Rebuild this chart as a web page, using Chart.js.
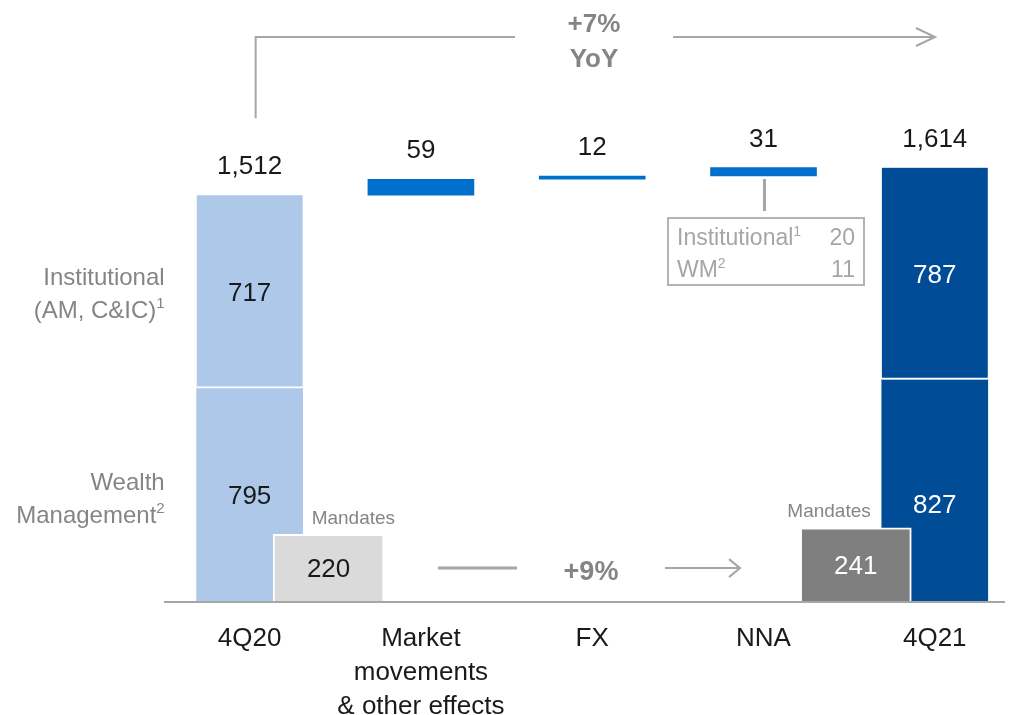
<!DOCTYPE html>
<html>
<head>
<meta charset="utf-8">
<script src="https://cdn.jsdelivr.net/npm/chart.js@4.4.1/dist/chart.umd.min.js"></script>
<style>
  html, body { margin: 0; background: #fff; }
  #wrap { width: 1010px; height: 715px; position: relative; }
</style>
</head>
<body>
<div id="wrap"><canvas id="aumChart"></canvas></div>
<script>
// data
const categories = [["4Q20"], ["Market", "movements", "& other effects"], ["FX"], ["NNA"], ["4Q21"]];
const wealthMgmt = [795, 827];      // 4Q20, 4Q21
const institutional = [717, 787];   // 4Q20, 4Q21
const totals = [1512, 1614];
const changes = [59, 12, 31];       // market, FX, NNA
const mandates = [220, 241];        // 4Q20, 4Q21
const nnaSplit = [["Institutional", "1", 20], ["WM", "2", 11]];
const yoyText = ["+7%", "YoY"];
const mandateGrowth = "+9%";

const FONT = "'Liberation Sans', Arial, sans-serif";
const GREY_LINE = "#a6a6a6";
const GREY_TEXT = "#858585";
const MANDATE_X = [0.461, 3.539];

function fmtNum(v) { return Number(v).toLocaleString("en-US"); }

// floating bars for the waterfall
const wmData = [{ x: 0, y: [0, wealthMgmt[0]] }, { x: 4, y: [0, wealthMgmt[1]] }];
const instData = [
  { x: 0, y: [wealthMgmt[0], wealthMgmt[0] + institutional[0]] },
  { x: 4, y: [wealthMgmt[1], wealthMgmt[1] + institutional[1]] }
];
let run = totals[0];
const changeData = changes.map((c, i) => {
  const d = { x: i + 1, y: [run, run + c] };
  run += c;
  return d;
});
const mandateData = mandates.map((m, i) => ({ x: MANDATE_X[i], y: m }));

function font(size, weight) { return `${weight || "normal"} ${size}px ${FONT}`; }

// text with superscript pieces, e.g. [["Institutional"], ["1", true]]
function drawRun(ctx, parts, x, y, align, size, color) {
  ctx.fillStyle = color;
  ctx.textAlign = "left";
  ctx.textBaseline = "alphabetic";
  const widths = parts.map(p => {
    ctx.font = font(p[1] ? Math.round(size * 0.62) : size);
    return ctx.measureText(p[0]).width;
  });
  const total = widths.reduce((a, b) => a + b, 0);
  let cx = align === "right" ? x - total : align === "center" ? x - total / 2 : x;
  parts.forEach((p, i) => {
    ctx.font = font(p[1] ? Math.round(size * 0.62) : size);
    ctx.fillText(p[0], cx, p[1] ? y - size * 0.4 : y);
    cx += widths[i];
  });
}

function centerText(ctx, txt, x, yMid, size, color, weight) {
  ctx.font = font(size, weight);
  ctx.fillStyle = color;
  ctx.textAlign = "center";
  ctx.textBaseline = "alphabetic";
  ctx.fillText(txt, x, yMid + size * 0.36);
}

function line(ctx, pts, color, w) {
  ctx.beginPath();
  ctx.strokeStyle = color;
  ctx.lineWidth = w;
  ctx.lineJoin = "miter";
  pts.forEach((p, i) => i ? ctx.lineTo(p[0], p[1]) : ctx.moveTo(p[0], p[1]));
  ctx.stroke();
}

const annotations = {
  id: "annotations",
  afterDatasetsDraw(chart) {
    const { ctx, chartArea, scales } = chart;
    const x = scales.x, y = scales.y, y2 = scales.y2;
    const base = y.getPixelForValue(0);
    const half = 53;
    ctx.save();

    // baseline
    line(ctx, [[chartArea.left, base], [chartArea.right, base]], GREY_LINE, 2);

    // totals and changes above bars
    const tops = [totals[0], totals[0] + changes[0], totals[0] + changes[0] + changes[1],
                  totals[0] + changes[0] + changes[1] + changes[2], totals[1]];
    const topLabels = [fmtNum(totals[0]), ...changes.map(fmtNum), fmtNum(totals[1])];
    topLabels.forEach((t, i) => {
      ctx.font = font(26);
      ctx.fillStyle = "#1a1a1a";
      ctx.textAlign = "center";
      ctx.textBaseline = "alphabetic";
      ctx.fillText(t, x.getPixelForValue(i), y.getPixelForValue(tops[i]) - 21);
    });

    // values inside stacked bars
    const x0 = x.getPixelForValue(0), x4 = x.getPixelForValue(4);
    centerText(ctx, String(institutional[0]), x0, y.getPixelForValue(wealthMgmt[0] + institutional[0] / 2), 26, "#1a1a1a");
    centerText(ctx, String(wealthMgmt[0]), x0, y.getPixelForValue(wealthMgmt[0] / 2), 26, "#1a1a1a");
    centerText(ctx, String(institutional[1]), x4, y.getPixelForValue(wealthMgmt[1] + institutional[1] / 2), 26, "#ffffff");
    centerText(ctx, String(wealthMgmt[1]), x4, y.getPixelForValue(wealthMgmt[1] * 0.44), 26, "#ffffff");

    // mandates
    const m0 = x.getPixelForValue(MANDATE_X[0]), m1 = x.getPixelForValue(MANDATE_X[1]);
    centerText(ctx, String(mandates[0]), m0, y2.getPixelForValue(mandates[0] / 2), 26, "#1a1a1a");
    centerText(ctx, String(mandates[1]), m1, y2.getPixelForValue(mandates[1] / 2), 26, "#ffffff");
    drawRun(ctx, [["Mandates"]], x0 + half + 9, y2.getPixelForValue(mandates[0]) - 10, "left", 19, GREY_TEXT);
    drawRun(ctx, [["Mandates"]], x4 - half - 11, y2.getPixelForValue(mandates[1]) - 11, "right", 19, GREY_TEXT);

    // +9% arrow between mandates
    const ym = y2.getPixelForValue(mandates[0] * 0.5);
    line(ctx, [[438, ym], [517, ym]], GREY_LINE, 3);
    line(ctx, [[665, ym], [740, ym]], GREY_LINE, 2);
    line(ctx, [[729, ym - 9], [740, ym], [729, ym + 9]], GREY_LINE, 2);
    centerText(ctx, mandateGrowth, 591, ym + 2, 27, GREY_TEXT, "bold");

    // left segment labels
    const instMid = y.getPixelForValue(wealthMgmt[0] + institutional[0] / 2);
    const wmMid = y.getPixelForValue(wealthMgmt[0] / 2);
    const lx = x0 - half - 32;
    drawRun(ctx, [["Institutional"]], lx, instMid - 16 + 9, "right", 24, GREY_TEXT);
    drawRun(ctx, [["(AM, C&IC)"], ["1", true]], lx, instMid + 17 + 9, "right", 24, GREY_TEXT);
    drawRun(ctx, [["Wealth"]], lx, wmMid - 14 + 9, "right", 24, GREY_TEXT);
    drawRun(ctx, [["Management"], ["2", true]], lx, wmMid + 19 + 9, "right", 24, GREY_TEXT);

    // NNA breakdown box
    const x3 = x.getPixelForValue(3);
    const nnaBottom = y.getPixelForValue(tops[3] - changes[2]);
    line(ctx, [[x3 + 1, nnaBottom + 3], [x3 + 1, nnaBottom + 35]], GREY_LINE, 3);
    ctx.strokeStyle = "#b3b3b3";
    ctx.lineWidth = 2;
    ctx.strokeRect(668, nnaBottom + 42, 196, 67);
    nnaSplit.forEach((r, i) => {
      const by = nnaBottom + 69 + i * 32;
      drawRun(ctx, [[r[0]], [r[1], true]], 677, by, "left", 23, "#a6a6a6");
      drawRun(ctx, [[String(r[2])]], 855, by, "right", 23, "#a6a6a6");
    });

    // +7% YoY bracket arrow
    const yTop = 37;
    line(ctx, [[x0 + 6, y.getPixelForValue(totals[0]) - 77], [x0 + 6, yTop], [515, yTop]], GREY_LINE, 2);
    line(ctx, [[673, yTop], [935, yTop]], GREY_LINE, 2);
    line(ctx, [[916, yTop - 9], [935, yTop], [916, yTop + 9]], GREY_LINE, 2);
    centerText(ctx, yoyText[0], 594, 23, 26, GREY_TEXT, "bold");
    centerText(ctx, yoyText[1], 594, 58, 26, GREY_TEXT, "bold");

    // category labels
    categories.forEach((lines, i) => {
      lines.forEach((t, j) => {
        centerText(ctx, t, x.getPixelForValue(i), base + 35 + j * 34, 26, "#1a1a1a");
      });
    });

    ctx.restore();
  }
};

const chart = new Chart(document.getElementById("aumChart"), {
  type: "bar",
  data: {
    datasets: [
      {
        label: "Mandates",
        data: mandateData,
        yAxisID: "y2",
        order: 0,
        grouped: false,
        barThickness: 111,
        backgroundColor: ["#dadada", "#7f7f7f"],
        borderColor: "#ffffff",
        borderWidth: { left: 2, top: 2, right: 2, bottom: 0 },
        borderSkipped: false
      },
      {
        label: "Changes",
        data: changeData,
        order: 1,
        grouped: false,
        barThickness: 106,
        backgroundColor: "#0070cc",
        borderWidth: 0
      },
      {
        label: "Institutional",
        data: instData,
        order: 2,
        grouped: false,
        barThickness: 106,
        backgroundColor: ["#adc8e9", "#004c97"],
        borderColor: "#ffffff",
        borderWidth: { left: 0, top: 0, right: 0, bottom: 2 },
        borderSkipped: false
      },
      {
        label: "Wealth Management",
        data: wmData,
        order: 3,
        grouped: false,
        barThickness: 106,
        backgroundColor: ["#adc8e9", "#004c97"],
        borderWidth: 0
      }
    ]
  },
  options: {
    responsive: true,
    maintainAspectRatio: false,
    animation: false,
    layout: { padding: { left: 164, right: 5, top: 10, bottom: 113 } },
    plugins: { legend: { display: false }, tooltip: { enabled: false } },
    scales: {
      x: { type: "linear", min: -0.5, max: 4.41, display: false, offset: false },
      y: { min: 0, max: 2200, display: false },
      y2: { min: 0, max: 1922, display: false }
    }
  },
  plugins: [annotations]
});
</script>
</body>
</html>
